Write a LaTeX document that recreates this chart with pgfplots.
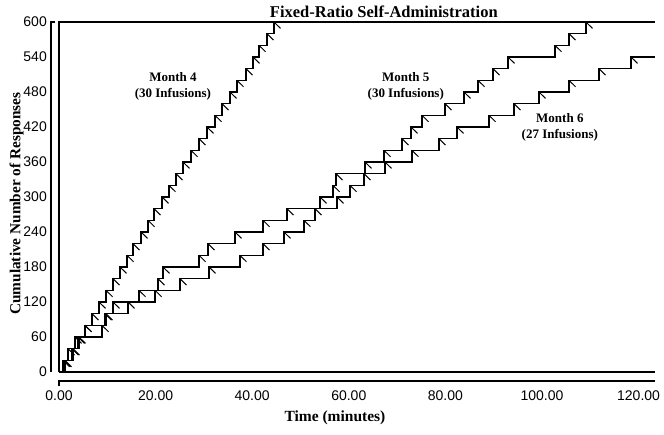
\documentclass[border=0pt]{standalone}
\usepackage{fontspec}
\setmainfont{Liberation Serif}
\newfontfamily\arialf{Liberation Sans}
\usepackage{pgfplots}
\pgfplotsset{compat=1.18}
\usepackage{pgfplotstable}

% time (min) at which each block of 20 responses was completed
\pgfplotstableread{
t v
0 0
1.04 20
2.90 40
4.14 60
5.38 80
6.83 100
8.28 120
9.73 140
11.18 160
12.63 180
14.08 200
15.32 220
16.98 240
18.43 260
19.67 280
21.33 300
22.77 320
24.22 340
25.67 360
27.33 380
28.99 400
30.64 420
32.30 440
33.75 460
35.40 480
36.85 500
38.72 520
40.17 540
41.41 560
43.06 580
44.51 600
123.4 600
}\monthfour

\pgfplotstableread{
t v
0 0
0.83 20
1.86 40
3.31 60
5.38 80
9.73 100
11.18 120
19.88 140
20.50 160
21.53 180
28.99 200
30.85 220
36.44 240
42.24 260
47.20 280
54.04 300
56.73 320
57.35 340
63.35 360
67.29 380
71.01 400
72.88 420
75.16 440
79.92 460
83.85 480
86.75 500
89.86 520
92.96 540
102.69 560
105.59 580
109.11 600
123.4 600
}\monthfive

\pgfplotstableread{
t v
0 0
1.24 20
2.69 40
3.93 60
8.90 80
9.52 100
14.29 120
16.56 140
25.05 160
31.06 180
37.47 200
42.24 220
46.58 240
50.72 260
53.00 280
57.56 300
60.25 320
63.15 340
67.49 360
73.08 380
78.67 400
82.40 420
89.03 440
94.20 460
99.38 480
105.59 500
111.80 520
118.43 540
123.4 540
}\monthsix

\begin{document}
\begin{tikzpicture}
\begin{axis}[name=ax,
  scale only axis, width=596pt, height=350pt,
  xmin=0, xmax=123.4, ymin=0, ymax=600,
  axis lines=left,
  axis line style={draw=none},
  xtick={0,20,...,120},
  xticklabels={0.00,20.00,40.00,60.00,80.00,100.00,120.00},
  ytick={0,60,...,600},
  major tick length=0pt,
  /pgf/number format/assume math mode=true,
  tick label style={font=\arialf\fontsize{14}{15}\selectfont},
  xticklabel style={inner sep=0pt, yshift=-19pt},
  yticklabel style={inner sep=0pt, xshift=-12pt},
  clip=false,
  title={\fontsize{16.5}{18}\selectfont\bfseries Fixed-Ratio Self-Administration},
  every axis title/.style={at={(axis description cs:0.545,1.03)}, anchor=center, inner sep=0pt},
  xlabel={\fontsize{15.5}{18}\selectfont\bfseries Time (minutes)},
  every axis x label/.style={at={(axis description cs:0.463,-0.131)}, anchor=center, inner sep=0pt},
  ylabel={\fontsize{15.3}{18}\selectfont\bfseries Cumulative Number of Responses},
  every axis y label/.style={at={(axis description cs:-0.071,0.481)}, rotate=90, anchor=center, inner sep=0pt},
]
% offset axis spines
\draw[line width=1.4pt] ([shift={(-4pt,0pt)}]rel axis cs:0,1) -- ([shift={(-8pt,0pt)}]rel axis cs:0,1) -- ([shift={(-8pt,0pt)}]rel axis cs:0,0);
\draw[line width=1.4pt] ([shift={(0pt,-14pt)}]rel axis cs:0,0) -- ([shift={(0pt,-9pt)}]rel axis cs:0,0) -- ([shift={(0pt,-9pt)}]rel axis cs:1,0);
% frame of the record
\addplot[black, line width=1.4pt] coordinates {(0,0) (123.4,0)};
\addplot[black, line width=1.4pt] coordinates {(0,0) (0,600) (123.4,600)};
% cumulative records
\addplot[black, line width=1.4pt, const plot, no markers] table[x=t,y=v] {\monthfour};
\addplot[black, line width=1.4pt, const plot, no markers] table[x=t,y=v] {\monthfive};
\addplot[black, line width=1.4pt, const plot, no markers] table[x=t,y=v] {\monthsix};
% infusion pips
\addplot[black, line width=1pt, no markers, quiver={u=1.35,v=-11}, restrict x to domain=0.5:123] table[x=t,y=v] {\monthfour};
\addplot[black, line width=1pt, no markers, quiver={u=1.35,v=-11}, restrict x to domain=0.5:123] table[x=t,y=v] {\monthfive};
\addplot[black, line width=1pt, no markers, quiver={u=1.35,v=-11}, restrict x to domain=0.5:123] table[x=t,y=v] {\monthsix};
% annotations
\node[align=center, font=\fontsize{13}{16}\selectfont\bfseries] at (axis cs:23.6,490) {Month 4\\(30 Infusions)};
\node[align=center, font=\fontsize{13}{16}\selectfont\bfseries] at (axis cs:71.8,490) {Month 5\\(30 Infusions)};
\node[align=center, font=\fontsize{13}{16}\selectfont\bfseries] at (axis cs:103.7,420) {Month 6\\(27 Infusions)};
\end{axis}
\pgfresetboundingbox
\path[use as bounding box] ([shift={(-59pt,-62pt)}]ax.south west) rectangle ([shift={(9pt,22pt)}]ax.north east);
\end{tikzpicture}
\end{document}
